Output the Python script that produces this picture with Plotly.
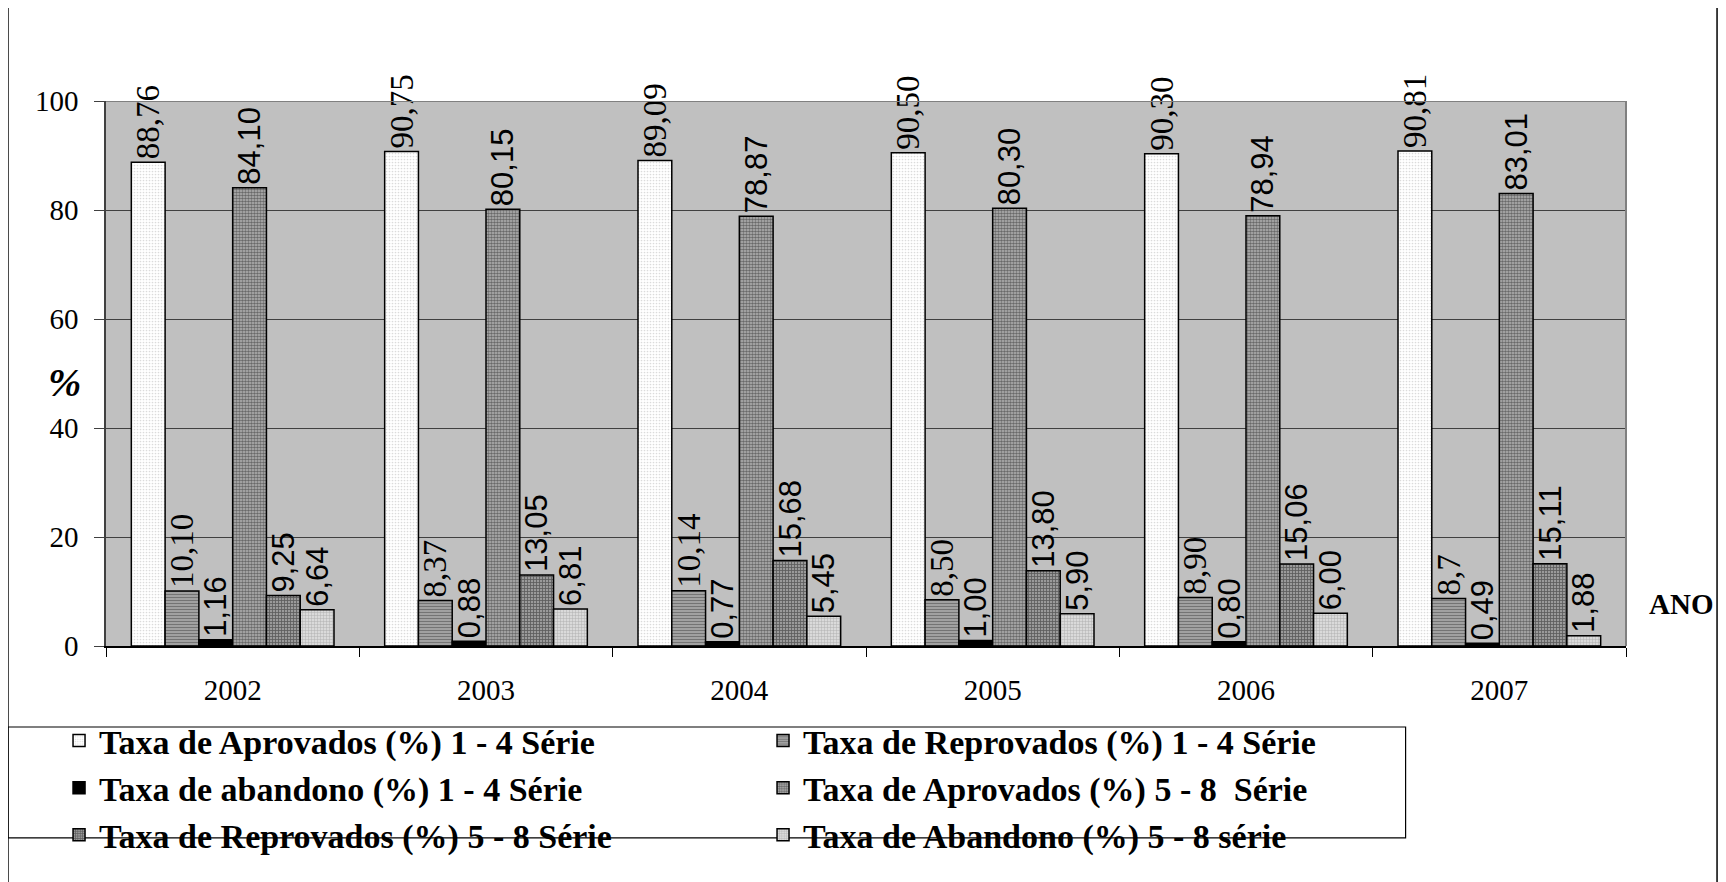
import plotly.graph_objects as go

anos = ["2002", "2003", "2004", "2005", "2006", "2007"]

aprovados_1_4 = [88.76, 90.75, 89.09, 90.50, 90.30, 90.81]
reprovados_1_4 = [10.10, 8.37, 10.14, 8.50, 8.90, 8.70]
abandono_1_4 = [1.16, 0.88, 0.77, 1.00, 0.80, 0.49]
aprovados_5_8 = [84.10, 80.15, 78.87, 80.30, 78.94, 83.01]
reprovados_5_8 = [9.25, 13.05, 15.68, 13.80, 15.06, 15.11]
abandono_5_8 = [6.64, 6.81, 5.45, 5.90, 6.00, 1.88]

y_ticks = [0, 20, 40, 60, 80, 100]

nomes = [
    "Taxa de Aprovados (%) 1 - 4 Série",
    "Taxa de Reprovados (%) 1 - 4 Série",
    "Taxa de abandono (%) 1 - 4 Série",
    "Taxa de Aprovados (%) 5 - 8  Série",
    "Taxa de Reprovados (%) 5 - 8 Série",
    "Taxa de Abandono (%) 5 - 8 série",
]


def fmt(v):
    return f"{v:.2f}".replace(".", ",")


labels_reprov_1_4 = [fmt(v) for v in reprovados_1_4]
labels_reprov_1_4[5] = "8,7"

series = [
    (aprovados_1_4, [fmt(v) for v in aprovados_1_4],
     dict(shape=".", size=3, solidity=0.25, fgcolor="#b8b8b8", bgcolor="#ffffff"), "Liberation Serif", 33),
    (reprovados_1_4, labels_reprov_1_4,
     dict(shape="-", size=3, solidity=0.5, fgcolor="#383838", bgcolor="#b0b0b0"), "Liberation Serif", 33),
    (abandono_1_4, [fmt(v) for v in abandono_1_4],
     dict(shape="", fgcolor="#000000", bgcolor="#000000"), "Liberation Sans", 31),
    (aprovados_5_8, [fmt(v) for v in aprovados_5_8],
     dict(shape=".", size=3, solidity=0.6, fgcolor="#1a1a1a", bgcolor="#b8b8b8"), "Liberation Sans", 31),
    (reprovados_5_8, [fmt(v) for v in reprovados_5_8],
     dict(shape="+", size=3, solidity=0.45, fgcolor="#1a1a1a", bgcolor="#9a9a9a"), "Liberation Sans", 31),
    (abandono_5_8, [fmt(v) for v in abandono_5_8],
     dict(shape="+", size=3, solidity=0.3, fgcolor="#858585", bgcolor="#dadada"), "Liberation Sans", 31),
]

fig = go.Figure()
for nome, (vals, labs, pat, fam, fsz) in zip(nomes, series):
    fnt = dict(family=fam, size=fsz, color="black")
    fig.add_trace(go.Bar(
        name=nome,
        x=anos,
        y=vals,
        text=labs,
        textposition="outside",
        textangle=-90,
        constraintext="none",
        cliponaxis=False,
        textfont=fnt,
        outsidetextfont=fnt,
        marker=dict(color=pat["bgcolor"], pattern=pat,
                    line=dict(color="black", width=1.5)),
        hoverinfo="x+y",
    ))

fig.update_layout(
    width=1718,
    height=874,
    autosize=False,
    margin=dict(l=98, r=100, t=93, b=236, pad=0),
    paper_bgcolor="white",
    plot_bgcolor="#c0c0c0",
    barmode="group",
    bargap=0.2,
    bargroupgap=0,
    uniformtext=dict(mode=False),
    font=dict(family="Liberation Serif", color="black"),
    xaxis=dict(
        type="category",
        tickson="boundaries",
        ticks="outside",
        ticklen=9,
        tickcolor="black",
        tickwidth=1,
        showline=True,
        linecolor="black",
        linewidth=1.5,
        showgrid=False,
        tickfont=dict(family="Liberation Serif", size=29, color="black"),
        ticklabelstandoff=17,
    ),
    yaxis=dict(
        range=[0, 100],
        tickvals=y_ticks,
        ticks="outside",
        ticklen=10,
        tickcolor="#404040",
        tickwidth=1,
        showline=True,
        linecolor="#404040",
        linewidth=1.5,
        gridcolor="#404040",
        gridwidth=1,
        zeroline=False,
        tickfont=dict(family="Liberation Serif", size=29, color="black"),
        ticklabelstandoff=10,
    ),
    legend=dict(
        orientation="h",
        x=-0.0309,
        y=-0.1208,
        xanchor="left",
        yanchor="top",
        entrywidth=659,
        entrywidthmode="pixels",
        font=dict(family="Liberation Serif", size=34, color="black", weight="bold"),
        bgcolor="rgba(0,0,0,0)",
        borderwidth=0,
        traceorder="normal",
    ),
    showlegend=True,
)

fig.add_shape(type="line", xref="paper", yref="y", x0=0, x1=1, y0=100, y1=100,
              line=dict(color="#808080", width=2), layer="above")
fig.add_shape(type="line", xref="paper", yref="y", x0=1, x1=1, y0=0, y1=100,
              line=dict(color="#808080", width=2), layer="above")
fig.add_shape(type="line", xref="paper", yref="paper", x0=-0.0645, x1=-0.0645, y0=-0.45, y1=1.2,
              line=dict(color="black", width=1.5))
fig.add_shape(type="line", xref="paper", yref="paper", x0=1.0599, x1=1.0599, y0=-0.45, y1=1.2,
              line=dict(color="black", width=1.5))
fig.add_shape(type="rect", xref="paper", yref="paper", x0=-0.0645, x1=0.855, y0=-0.352, y1=-0.1486,
              line=dict(color="black", width=1.2))

fig.add_annotation(text="%", xref="paper", yref="paper", x=-0.027, y=0.4826,
                   showarrow=False, xanchor="center", yanchor="middle",
                   font=dict(family="Liberation Serif", size=40, color="black",
                             weight="bold", style="italic"))
fig.add_annotation(text="ANO", xref="paper", yref="paper", x=1.0362, y=0.077,
                   showarrow=False, xanchor="center", yanchor="middle",
                   font=dict(family="Liberation Serif", size=29, color="black", weight="bold"))

fig.write_html("out.html")
